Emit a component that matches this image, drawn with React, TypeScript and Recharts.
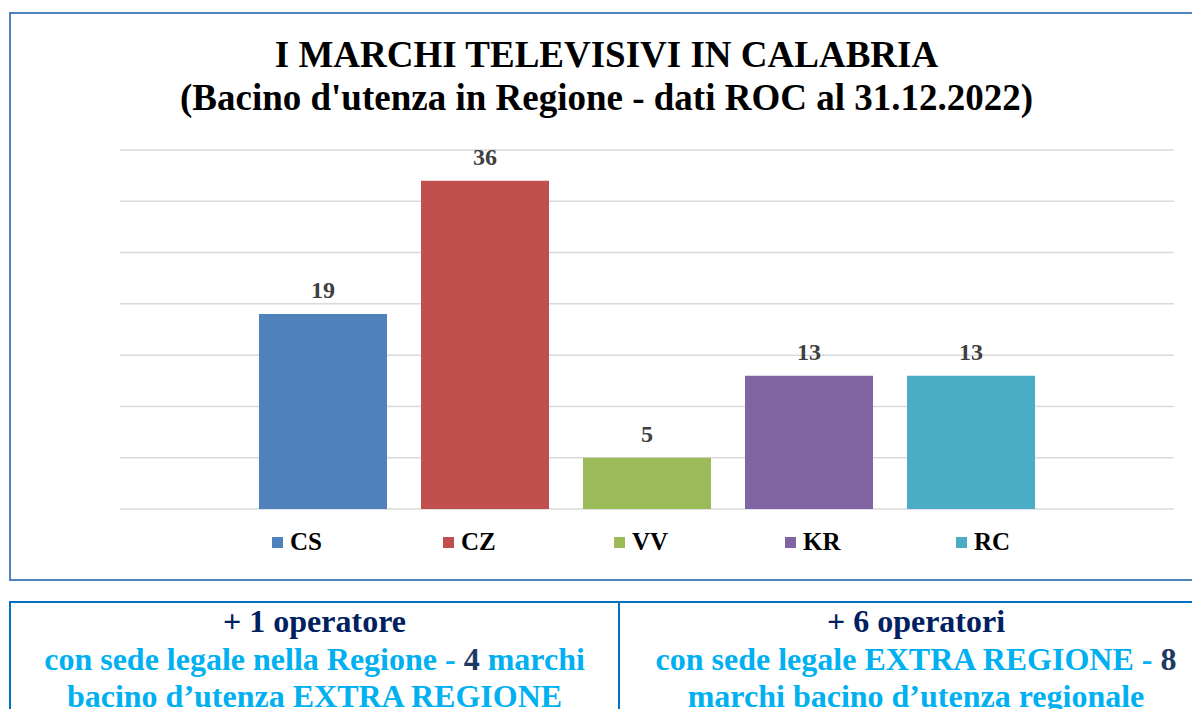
import React from 'react';
import { BarChart, Bar, XAxis, YAxis, CartesianGrid, Legend, LabelList } from 'recharts';

// Series (provinces) shown as separate bars in a single category
const seriesNames = ['CS', 'CZ', 'VV', 'KR', 'RC'];
// Bar heights as drawn in the picture
const barValues = [19, 32, 5, 13, 13];
// Data labels as printed above the bars
const dataLabels = ['19', '36', '5', '13', '13'];
const seriesColors = ['#4F81BD', '#C0504D', '#9BBB59', '#8064A2', '#4BACC6'];
const yTicks = [0, 5, 10, 15, 20, 25, 30, 35];
const categories = ['Calabria'];

const titleLines = ['I MARCHI TELEVISIVI IN CALABRIA', "(Bacino d'utenza in Regione - dati ROC al 31.12.2022)"];

const data = categories.map((c) => {
  const row: Record<string, any> = { name: c };
  seriesNames.forEach((s, i) => {
    row[s] = barValues[i];
    row[s + '_label'] = dataLabels[i];
  });
  return row;
});

const serif = '"Liberation Serif", "Times New Roman", serif';

const renderLegend = (props: any) => {
  const payload = [...(props.payload || [])].sort(
    (a: any, b: any) => seriesNames.indexOf(a.value) - seriesNames.indexOf(b.value)
  );
  return (
    <div style={{ display: 'flex', paddingLeft: 272, height: 30, alignItems: 'center' }}>
      {payload.map((p: any) => (
        <div key={p.value} style={{ display: 'flex', alignItems: 'center', width: 171 }}>
          <span style={{ display: 'inline-block', width: 11, height: 11, background: p.color, marginRight: 7 }} />
          <span style={{ fontFamily: serif, fontWeight: 700, fontSize: 25, color: '#000' }}>{p.value}</span>
        </div>
      ))}
    </div>
  );
};

const cyan = '#00B0F0';
const navy = '#002060';
const slate = '#1F3864';

export default function App() {
  return (
    <div style={{ position: 'absolute', left: 0, top: 0, width: 1192, height: 709, overflow: 'hidden', background: '#fff' }}>
      {/* chart frame */}
      <div style={{ position: 'absolute', left: 9, top: 12, width: 1200, height: 569, border: '2px solid #4F81BD', boxSizing: 'border-box' }} />
      {/* title */}
      <div style={{ position: 'absolute', left: 9, top: 33, width: 1195, textAlign: 'center', fontFamily: serif, fontWeight: 700, fontSize: 37, lineHeight: '43px', color: '#000' }}>
        {titleLines.map((t) => (
          <div key={t}>{t}</div>
        ))}
      </div>
      <div style={{ position: 'absolute', left: 0, top: 0 }}>
        <BarChart width={1192} height={582} data={data} margin={{ top: 150, right: 18, bottom: 43, left: 120 }} barGap={34}>
          <CartesianGrid vertical={false} stroke="#D9D9D9" strokeWidth={1.5} />
          <XAxis dataKey="name" hide />
          <YAxis hide domain={[0, 35]} ticks={yTicks} />
          <Legend
            verticalAlign="bottom"
            content={renderLegend}
            itemSorter={(item: any) => seriesNames.indexOf(item.value)}
            wrapperStyle={{ left: 0, width: 1192, bottom: 25 }}
          />
          {seriesNames.map((s, i) => (
            <Bar key={s} dataKey={s} name={s} fill={seriesColors[i]} barSize={128} isAnimationActive={false}>
              <LabelList dataKey={s + '_label'} position="top" offset={16} fill="#404040" style={{ fontFamily: serif, fontWeight: 700, fontSize: 24 }} />
            </Bar>
          ))}
        </BarChart>
      </div>
      {/* bottom boxes */}
      <div style={{ position: 'absolute', left: 9, top: 601, width: 1210, height: 140, border: '2px solid #0070C0', boxSizing: 'border-box' }} />
      <div style={{ position: 'absolute', left: 618, top: 601, width: 2, height: 140, background: '#0070C0' }} />
      <div style={{ position: 'absolute', left: 9, top: 603, width: 611, textAlign: 'center', fontFamily: serif, fontWeight: 700, fontSize: 32, lineHeight: '37.5px' }}>
        <div style={{ color: navy }}>+ 1 operatore</div>
        <div style={{ color: cyan }}>con sede legale nella Regione - <span style={{ color: slate }}>4</span> marchi</div>
        <div style={{ color: cyan }}>bacino d’utenza EXTRA REGIONE</div>
      </div>
      <div style={{ position: 'absolute', left: 620, top: 603, width: 592, textAlign: 'center', fontFamily: serif, fontWeight: 700, fontSize: 32, lineHeight: '37.5px' }}>
        <div style={{ color: navy }}>+ 6 operatori</div>
        <div style={{ color: cyan }}>con sede legale EXTRA REGIONE - <span style={{ color: slate }}>8</span></div>
        <div style={{ color: cyan }}>marchi bacino d’utenza regionale</div>
      </div>
    </div>
  );
}
